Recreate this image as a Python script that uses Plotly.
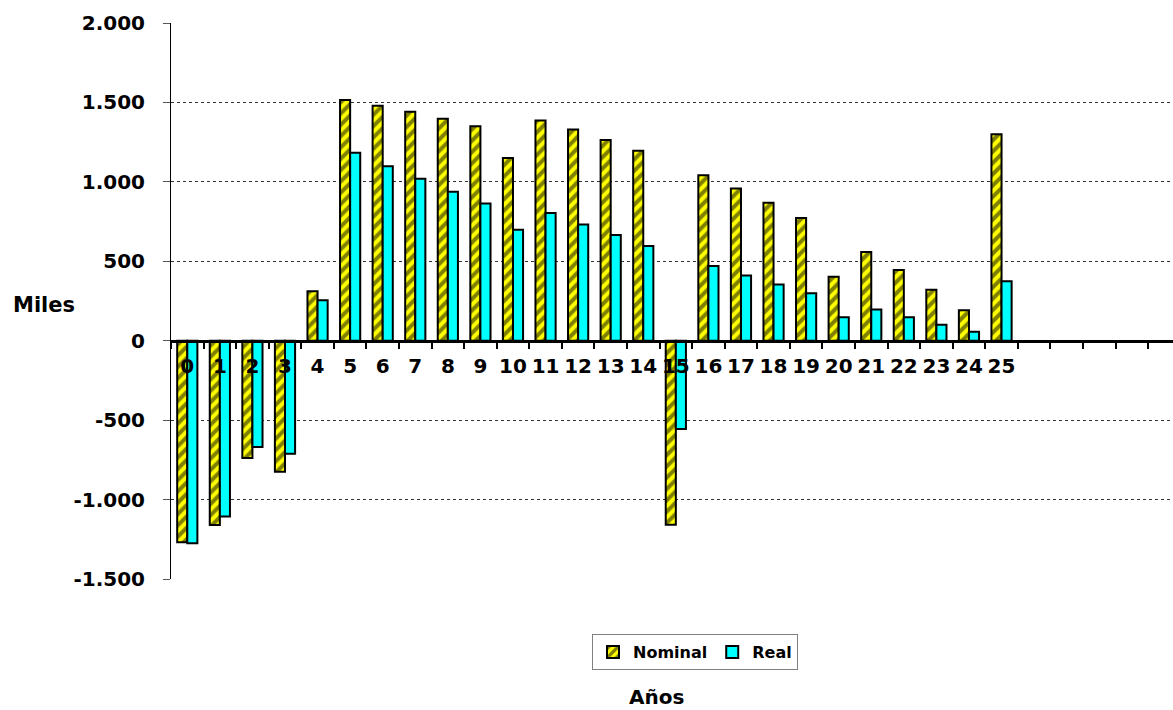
import plotly.graph_objects as go

# Flujo de caja por año, en miles
years = list(range(26))
year_labels = [str(y) for y in years]
nominal = [-1268, -1160, -738, -825, 312, 1515, 1479, 1441, 1397, 1350,
           1150, 1386, 1329, 1264, 1196, -1158, 1042, 958, 869, 772,
           403, 559, 445, 321, 192, 1300]
real = [-1275, -1106, -669, -711, 255, 1183, 1099, 1019, 937, 863,
        698, 804, 732, 665, 597, -555, 471, 411, 354, 299,
        147, 196, 147, 101, 57, 375]

y_ticks = [-1500, -1000, -500, 0, 500, 1000, 1500, 2000]
y_tick_labels = ["-1.500", "-1.000", "-500", "0", "500", "1.000", "1.500", "2.000"]

FONT = "DejaVu Sans"
W, H = 1173, 710
L, R, T, B = 171, 0, 23, 131
plot_w = W - L - R
plot_h = H - T - B


def px_x(px):
    return (px - L) / plot_w


def px_y(py):
    return (H - B - py) / plot_h


fig = go.Figure()
fig.add_trace(go.Bar(
    x=years, y=nominal, name="Nominal",
    marker=dict(
        color="#FFFF00",
        line=dict(color="black", width=2),
        pattern=dict(shape="/", fgcolor="black", bgcolor="#FFFF00",
                     size=8, solidity=0.5),
    ),
))
fig.add_trace(go.Bar(
    x=years, y=real, name="Real",
    marker=dict(color="#00FFFF", line=dict(color="black", width=2)),
))

y_min, y_max = -1500, 2000
zero_pos = (0 - y_min) / (y_max - y_min)

fig.update_layout(
    width=W, height=H,
    margin=dict(l=L, r=R, t=T, b=B),
    paper_bgcolor="white", plot_bgcolor="white",
    barmode="group", bargap=0.38, bargroupgap=0,
    font=dict(family=FONT, size=17, color="black", weight="bold"),
    showlegend=True,
    legend=dict(
        orientation="h", x=px_x(695), xanchor="center",
        y=px_y(634), yanchor="top",
        bordercolor="#808080", borderwidth=1,
        font=dict(family=FONT, size=16, color="black", weight="bold"),
        itemwidth=30,
    ),
    xaxis=dict(
        type="linear", range=[-0.5, -0.5 + plot_w / 32.57],
        anchor="free", position=zero_pos,
        tickmode="array", tickvals=years, ticktext=year_labels,
        ticks="", showgrid=False, zeroline=False,
        showline=True, linecolor="black", linewidth=3,
        ticklabelstandoff=6,
        tickfont=dict(family=FONT, size=20, color="black", weight="bold"),
        minor=dict(tickmode="linear", tick0=-0.5, dtick=1,
                   ticks="outside", ticklen=6, tickwidth=2,
                   tickcolor="black", showgrid=False),
        fixedrange=True,
    ),
    yaxis=dict(
        range=[y_min, y_max], domain=[0, 1],
        tickmode="array", tickvals=y_ticks, ticktext=y_tick_labels,
        ticks="outside", ticklen=7, tickcolor="#555555", tickwidth=1,
        ticklabelstandoff=14,
        showgrid=True, gridcolor="#333333", griddash="dot", gridwidth=1,
        zeroline=False, showline=True, linecolor="black", linewidth=1,
        tickfont=dict(family=FONT, size=20, color="black", weight="bold"),
        fixedrange=True,
    ),
    annotations=[
        dict(text="Miles", x=px_x(44), y=px_y(305), xref="paper", yref="paper",
             showarrow=False, xanchor="center", yanchor="middle",
             font=dict(family=FONT, size=21, color="black", weight="bold")),
        dict(text="Años", x=px_x(656), y=px_y(697), xref="paper", yref="paper",
             showarrow=False, xanchor="center", yanchor="middle",
             font=dict(family=FONT, size=20, color="black", weight="bold")),
    ],
)

fig.write_html("out.html")
